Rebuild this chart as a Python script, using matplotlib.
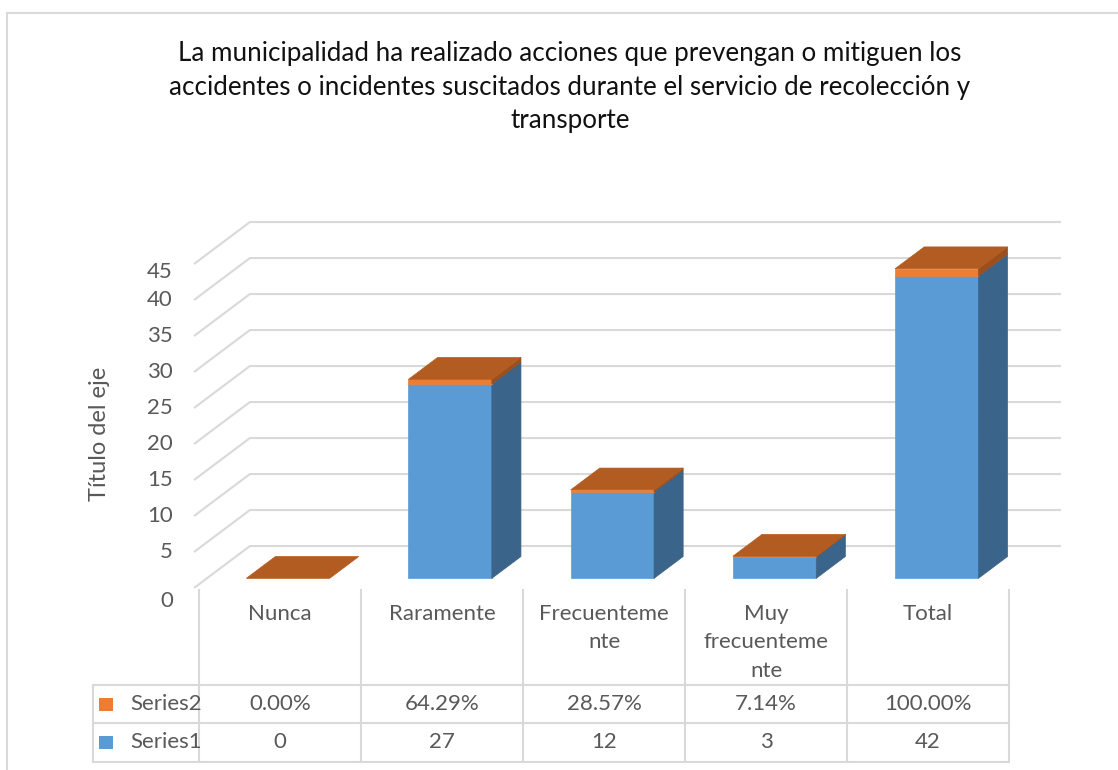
"""3D-style stacked column chart with data table (Excel look)."""

import matplotlib

matplotlib.use("Agg")
import matplotlib.pyplot as plt
from matplotlib.patches import Polygon
from matplotlib import transforms

plt.rcParams["font.family"] = ["Lato", "DejaVu Sans"]

TITLE = ("La municipalidad ha realizado acciones que prevengan o mitiguen los\n"
         "accidentes o incidentes suscitados durante el servicio de recolección y\n"
         "transporte")
categories = ["Nunca", "Raramente", "Frecuenteme\nnte", "Muy\nfrecuenteme\nnte", "Total"]
series1 = [0, 27, 12, 3, 42]
series2 = [0.0, 0.6429, 0.2857, 0.0714, 1.0]
series_names = ["Series2", "Series1"]
y_ticks = [0, 5, 10, 15, 20, 25, 30, 35, 40, 45]

TEXT = "#595959"
GRID = "#D9D9D9"
BLUE, BLUE_SIDE = "#5B9BD5", "#3A6489"
ORANGE, ORANGE_SIDE, ORANGE_TOP = "#ED7D31", "#9C4E1C", "#B35C22"
FS = 16

# perspective: full floor depth in data units, bar depth span and width
DX, DY = 0.345, 5.83
D0, D1 = 0.23, 0.75
BAR_W = 0.514

fig = plt.figure(figsize=(11.18, 7.7), dpi=100)
fig.patch.set_facecolor("white")

# pixel overlay for title, table and border
pax = fig.add_axes([0, 0, 1, 1])
pax.set_xlim(0, 1118)
pax.set_ylim(770, 0)
pax.axis("off")

# chart axes: x in category units, y in value units
px_l, px_r, px_t, px_b = 150, 1100, 200, 600
x0_px, y0_px, sx, sy = 194, 588, 162.2, 7.2
ax = fig.add_axes([px_l / 1118, (770 - px_b) / 770, (px_r - px_l) / 1118, (px_b - px_t) / 770])
ax.set_xlim((px_l - x0_px) / sx, (px_r - x0_px) / sx)
ax.set_ylim((y0_px - px_b) / sy, (y0_px - px_t) / sy)
ax.axis("off")

n = len(categories)
# walls: side-wall diagonals and back-wall horizontals
for v in y_ticks:
    ax.plot([0, DX, n + DX], [v, v + DY, v + DY], color=GRID, lw=1.5, zorder=1,
            solid_capstyle="butt")

# y tick labels (Excel nudges the end labels down a little)
nudge = {0: -13, 45: -8}
for v in y_ticks:
    tr = transforms.offset_copy(ax.transData, fig=fig, x=0, y=nudge.get(v, 0), units="dots")
    ax.text(-21 / sx, v, str(v), transform=tr, ha="right", va="center",
            fontsize=FS, color=TEXT)


def shift(x, y, d):
    return (x + d * DX, y + d * DY)


for i in range(n):
    xl = i + 0.5 - BAR_W / 2
    xr = i + 0.5 + BAR_W / 2
    segs = [(0, series1[i], BLUE, BLUE_SIDE),
            (series1[i], series1[i] + series2[i], ORANGE, ORANGE_SIDE)]
    for lo, hi, front, side in segs:
        if hi <= lo:
            continue
        ax.add_patch(Polygon([shift(xl, lo, D0), shift(xr, lo, D0),
                              shift(xr, hi, D0), shift(xl, hi, D0)],
                             closed=True, facecolor=front, edgecolor=front, lw=0.5, zorder=3))
        ax.add_patch(Polygon([shift(xr, lo, D0), shift(xr, lo, D1),
                              shift(xr, hi, D1), shift(xr, hi, D0)],
                             closed=True, facecolor=side, edgecolor=side, lw=0.5, zorder=3))
    top = series1[i] + series2[i]
    ax.add_patch(Polygon([shift(xl, top, D0), shift(xr, top, D0),
                          shift(xr, top, D1), shift(xl, top, D1)],
                         closed=True, facecolor=ORANGE_TOP, edgecolor=ORANGE_TOP, lw=0.5, zorder=4))

# border of the chart area
pax.plot([7, 1118], [13, 13], color=GRID, lw=1.5)
pax.plot([7, 7], [13, 770], color=GRID, lw=1.5)

# title and axis title
pax.text(570, 87, TITLE, ha="center", va="center", fontsize=18.7, color="#111111",
         linespacing=1.42)
pax.text(100, 434, "Título del eje", rotation=90, ha="center", va="center",
         fontsize=17, color=TEXT)

# data table
col_x0, col_w = 199, 162
row_lines = [685, 723, 762]
tbl_left, tbl_right = 93, col_x0 + n * col_w
for k in range(n + 1):
    pax.plot([col_x0 + k * col_w] * 2, [590, row_lines[-1]], color=GRID, lw=1.5)
pax.plot([tbl_left, tbl_left], [row_lines[0], row_lines[-1]], color=GRID, lw=1.5)
for y in row_lines:
    pax.plot([tbl_left, tbl_right], [y, y], color=GRID, lw=1.5)

for k, cat in enumerate(categories):
    cx = col_x0 + (k + 0.5) * col_w
    pax.text(cx, 604, cat, ha="center", va="top", fontsize=FS, color=TEXT, linespacing=1.52)
    pax.text(cx, 704, f"{series2[k]:.2%}", ha="center", va="center", fontsize=FS, color=TEXT)
    pax.text(cx, 742, f"{series1[k]}", ha="center", va="center", fontsize=FS, color=TEXT)

for y, name, color in [(704, series_names[0], ORANGE), (742, series_names[1], BLUE)]:
    pax.add_patch(Polygon([(99, y - 6.5), (113, y - 6.5), (113, y + 6.5), (99, y + 6.5)],
                          closed=True, facecolor=color, edgecolor="none"))
    pax.text(130, y, name, ha="left", va="center", fontsize=FS, color=TEXT)

fig.savefig("out.png", dpi=100, facecolor="white")
